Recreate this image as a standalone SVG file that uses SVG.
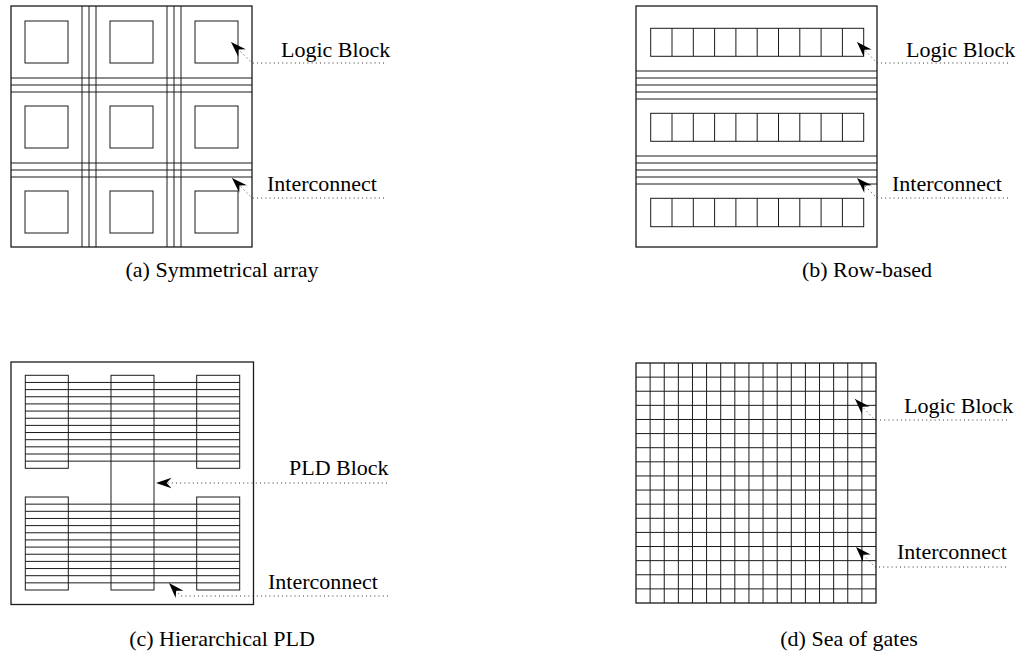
<svg xmlns="http://www.w3.org/2000/svg" xmlns:xlink="http://www.w3.org/1999/xlink" width="1023" height="660" viewBox="0 0 1023 660">
<style>
  .ln { fill: none; stroke: #1a1a1a; stroke-width: 1; }
  .box { fill: none; stroke: #1a1a1a; stroke-width: 1.3; }
  .lead { fill: none; stroke: #333; stroke-width: 1; stroke-dasharray: 1 3.2; }
  .lbl { font-family: "Liberation Serif", "Times New Roman", serif; font-size: 22px; fill: #000; }
  .cap { font-family: "Liberation Serif", "Times New Roman", serif; font-size: 22px; fill: #000; text-anchor: middle; }
</style>
<defs>
  <marker id="ah" markerUnits="userSpaceOnUse" markerWidth="20" markerHeight="20" viewBox="-16 -8 18 16" refX="0" refY="0" orient="auto">
    <path d="M0,0 L-14,-4.8 L-9.5,0 L-14,4.8 Z" fill="#000"/>
  </marker>
</defs>
<rect width="1023" height="660" fill="#fff"/>

<!-- (a) Symmetrical array -->
<g id="panel-a">
  <rect class="box" x="11" y="6" width="241" height="241"/>
  <g id="a-channels">
    <path class="ln" d="M82,6V247M89,6V247M96,6V247M167,6V247M174,6V247M181,6V247M11,78H252M11,85H252M11,92H252M11,163H252M11,170H252M11,177H252"/>
  </g>
  <g id="a-blocks">
    <rect class="ln" x="25" y="21" width="43" height="42"/>
    <rect class="ln" x="110" y="21" width="43" height="42"/>
    <rect class="ln" x="195" y="21" width="43" height="42"/>
    <rect class="ln" x="25" y="106" width="43" height="42"/>
    <rect class="ln" x="110" y="106" width="43" height="42"/>
    <rect class="ln" x="195" y="106" width="43" height="42"/>
    <rect class="ln" x="25" y="191" width="43" height="42"/>
    <rect class="ln" x="110" y="191" width="43" height="42"/>
    <rect class="ln" x="195" y="191" width="43" height="42"/>
  </g>
</g>

<!-- (b) Row-based -->
<g id="panel-b">
  <rect class="box" x="636" y="6" width="241" height="241"/>
  <g id="b-channels">
    <path class="ln" d="M636,71H877M636,78H877M636,85H877M636,92H877M636,99H877M636,156H877M636,163H877M636,170H877M636,177H877M636,184H877"/>
  </g>
  <g id="b-rows">
    <rect class="ln" x="650.7" y="28.3" width="213" height="28"/>
    <rect class="ln" x="650.7" y="113.3" width="213" height="28"/>
    <rect class="ln" x="650.7" y="198.3" width="213" height="28.4"/>
    <path class="ln" d="M672,28.3V56.3M693.3,28.3V56.3M714.6,28.3V56.3M735.9,28.3V56.3M757.2,28.3V56.3M778.5,28.3V56.3M799.8,28.3V56.3M821.1,28.3V56.3M842.4,28.3V56.3
      M672,113.3V141.3M693.3,113.3V141.3M714.6,113.3V141.3M735.9,113.3V141.3M757.2,113.3V141.3M778.5,113.3V141.3M799.8,113.3V141.3M821.1,113.3V141.3M842.4,113.3V141.3
      M672,198.3V226.7M693.3,198.3V226.7M714.6,198.3V226.7M735.9,198.3V226.7M757.2,198.3V226.7M778.5,198.3V226.7M799.8,198.3V226.7M821.1,198.3V226.7M842.4,198.3V226.7"/>
  </g>
</g>

<!-- (c) Hierarchical PLD -->
<g id="panel-c">
  <rect class="box" x="11" y="362" width="242.5" height="242.5"/>
  <g id="c-blocks">
    <rect class="ln" x="25.3" y="375.3" width="43" height="93"/>
    <rect class="ln" x="196.7" y="375.3" width="43" height="93"/>
    <rect class="ln" x="111" y="375.3" width="43" height="214.7"/>
    <rect class="ln" x="25.3" y="497" width="43" height="93"/>
    <rect class="ln" x="196.7" y="497" width="43" height="93"/>
  </g>
  <g id="c-interconnect">
    <path class="ln" d="M25.3,382.45H239.7M25.3,389.6H239.7M25.3,396.76H239.7M25.3,403.92H239.7M25.3,411.07H239.7M25.3,418.22H239.7M25.3,425.38H239.7M25.3,432.53H239.7M25.3,439.69H239.7M25.3,446.84H239.7M25.3,454H239.7M25.3,461.15H239.7
      M25.3,504.15H239.7M25.3,511.3H239.7M25.3,518.46H239.7M25.3,525.6H239.7M25.3,532.77H239.7M25.3,539.92H239.7M25.3,547.08H239.7M25.3,554.23H239.7M25.3,561.38H239.7M25.3,568.54H239.7M25.3,575.7H239.7M25.3,582.85H239.7"/>
  </g>
</g>

<!-- (d) Sea of gates -->
<g id="panel-d">
  <rect class="box" x="636" y="363" width="240" height="240"/>
  <g id="d-grid">
    <path class="ln" d="M650.12,363V603M664.24,363V603M678.35,363V603M692.47,363V603M706.59,363V603M720.71,363V603M734.82,363V603M748.94,363V603M763.06,363V603M777.18,363V603M791.29,363V603M805.41,363V603M819.53,363V603M833.65,363V603M847.76,363V603M861.88,363V603
      M636,377.12H876M636,391.24H876M636,405.35H876M636,419.47H876M636,433.59H876M636,447.71H876M636,461.82H876M636,475.94H876M636,490.06H876M636,504.18H876M636,518.29H876M636,532.41H876M636,546.53H876M636,560.65H876M636,574.76H876M636,588.88H876"/>
  </g>
</g>

<!-- connectors -->
<g id="connectors">
  <path class="lead" marker-end="url(#ah)" d="M384,63H252L231,42"/>
  <path class="lead" marker-end="url(#ah)" d="M384,198H252L232,178"/>
  <path class="lead" marker-end="url(#ah)" d="M1008,63H877L857,42"/>
  <path class="lead" marker-end="url(#ah)" d="M1008,198H877L857,178"/>
  <path class="lead" marker-end="url(#ah)" d="M387,483H156"/>
  <path class="lead" marker-end="url(#ah)" d="M388,596H181L169,583"/>
  <path class="lead" marker-end="url(#ah)" d="M1007,420H875L855,399"/>
  <path class="lead" marker-end="url(#ah)" d="M1006,567H875L856,547"/>
</g>

<!-- labels -->
<g id="labels">
  <text class="lbl" x="281" y="57">Logic Block</text>
  <text class="lbl" x="267" y="191">Interconnect</text>
  <text class="lbl" x="906" y="57">Logic Block</text>
  <text class="lbl" x="892" y="191">Interconnect</text>
  <text class="lbl" x="289" y="475">PLD Block</text>
  <text class="lbl" x="268" y="589">Interconnect</text>
  <text class="lbl" x="904" y="413">Logic Block</text>
  <text class="lbl" x="897" y="559">Interconnect</text>
</g>

<!-- captions -->
<g id="captions">
  <text class="cap" x="222" y="277">(a) Symmetrical array</text>
  <text class="cap" x="867" y="277">(b) Row-based</text>
  <text class="cap" x="222" y="646">(c) Hierarchical PLD</text>
  <text class="cap" x="849" y="646">(d) Sea of gates</text>
</g>
</svg>
